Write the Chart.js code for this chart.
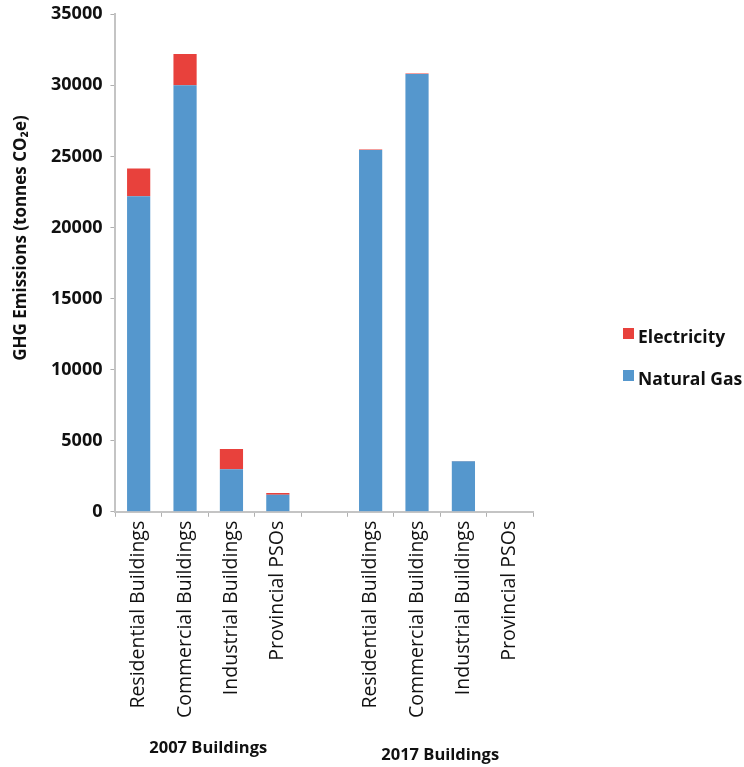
<!DOCTYPE html>
<html lang="en">
<head>
    <meta charset="UTF-8">
    <title>GHG Emissions by Building Type</title>
    <script src="https://cdn.jsdelivr.net/npm/chart.js"></script>
    <style>
        body { margin: 0; background: #fff; }
        #wrap { position: relative; width: 744px; height: 767px; }
        #legend { position: absolute; left: 623px; top: 315px; font: bold 17.5px "Open Sans", sans-serif; color: #111; }
        #legend div { height: 42px; display: flex; align-items: center; }
        #legend span { display: inline-block; width: 11px; height: 11px; margin-right: 4px; margin-top: -6px; }
    </style>
</head>
<body>

    <div id="wrap">
        <canvas id="myChart"></canvas>
        <div id="legend"></div>
    </div>

    <script>
        // categories (blank slot separates the two years)
        const labels = ["Residential Buildings", "Commercial Buildings", "Industrial Buildings", "Provincial PSOs", "",
                        "Residential Buildings", "Commercial Buildings", "Industrial Buildings", "Provincial PSOs"];
        const groups = ["2007 Buildings", "2017 Buildings"];
        const yTitle = "GHG Emissions (tonnes CO₂e)";

        // tonnes CO2e
        const naturalGas = [22200, 30000, 3000, 1200, null, 25450, 30800, 3550, 0];
        const electricity = [1950, 2200, 1420, 120, null, 30, 40, 20, 0];

        const blue = "#5597cd";
        const red = "#e8413c";

        // y title and group captions drawn by hand so they sit where the original has them
        const extraText = {
            id: "extraText",
            afterDraw(chart) {
                const ctx = chart.ctx;
                const x = chart.scales.x;
                ctx.save();
                ctx.fillStyle = "#111";
                ctx.textAlign = "center";
                ctx.textBaseline = "middle";
                ctx.font = "bold 16.5px 'Open Sans', sans-serif";
                ctx.fillText(groups[0], (x.getPixelForValue(1) + x.getPixelForValue(2)) / 2, 748);
                ctx.fillText(groups[1], (x.getPixelForValue(6) + x.getPixelForValue(7)) / 2, 755);
                ctx.translate(21, 238);
                ctx.rotate(-Math.PI / 2);
                ctx.font = "bold 17px 'Open Sans', sans-serif";
                ctx.fillText(yTitle, 0, 0);
                ctx.restore();
            }
        };

        const ctx = document.getElementById("myChart").getContext("2d");
        new Chart(ctx, {
            type: "bar",
            data: {
                labels: labels,
                datasets: [
                    { label: "Natural Gas", data: naturalGas, backgroundColor: blue },
                    { label: "Electricity", data: electricity, backgroundColor: red }
                ]
            },
            options: {
                responsive: true,
                maintainAspectRatio: false,
                animation: false,
                layout: { padding: { left: 43, right: 211, top: 1, bottom: 45 } },
                datasets: { bar: { barPercentage: 1, categoryPercentage: 0.5 } },
                plugins: {
                    legend: { display: false },
                    tooltip: { enabled: false }
                },
                scales: {
                    x: {
                        stacked: true,
                        border: { color: "#c4c4c4", width: 2 },
                        grid: { drawOnChartArea: false, tickLength: 5, color: "#b0b0b0" },
                        ticks: {
                            minRotation: 90, maxRotation: 90, autoSkip: false, padding: 4,
                            color: "#111",
                            font: { family: "'Open Sans', sans-serif", size: 19.5 }
                        }
                    },
                    y: {
                        stacked: true,
                        min: 0, max: 35000,
                        border: { color: "#c4c4c4", width: 2 },
                        grid: { drawOnChartArea: false, tickLength: 5, color: "#b0b0b0" },
                        ticks: {
                            stepSize: 5000, padding: 8, color: "#111",
                            callback: v => String(v),
                            font: { family: "'Open Sans', sans-serif", size: 18, weight: "bold", lineHeight: 0.7 }
                        }
                    }
                }
            },
            plugins: [extraText]
        });

        // legend: Electricity above Natural Gas
        const legend = document.getElementById("legend");
        [["Electricity", red], ["Natural Gas", blue]].forEach(([name, color]) => {
            const row = document.createElement("div");
            row.innerHTML = `<span style="background:${color}"></span>${name}`;
            legend.appendChild(row);
        });
    </script>

</body>
</html>
